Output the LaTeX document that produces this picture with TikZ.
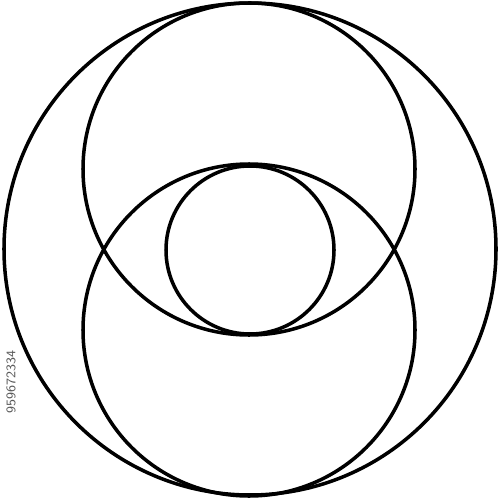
\documentclass[tikz,border=0pt]{standalone}
\begin{document}
\begin{tikzpicture}[x=0.02cm, y=-0.02cm, ring/.style={draw=black, line width=2pt}]

        % Marco de la imagen
        \useasboundingbox (0,0) rectangle (500,500);

        % Circulo exterior
        \draw[ring] (250,249) circle[radius=246];

        % Circulos superior e inferior
        \draw[ring] (249,169) circle[radius=166];
        \draw[ring] (249,330) circle[radius=166];

        % Circulo central
        \draw[ring] (250,250) circle[radius=84];

        % Numero lateral
        \node[rotate=90, text=black!65, font=\sffamily\fontsize{7.5}{8}\selectfont, inner sep=0pt] (num) at (11,382) {959672334};

    \end{tikzpicture}
\end{document}
